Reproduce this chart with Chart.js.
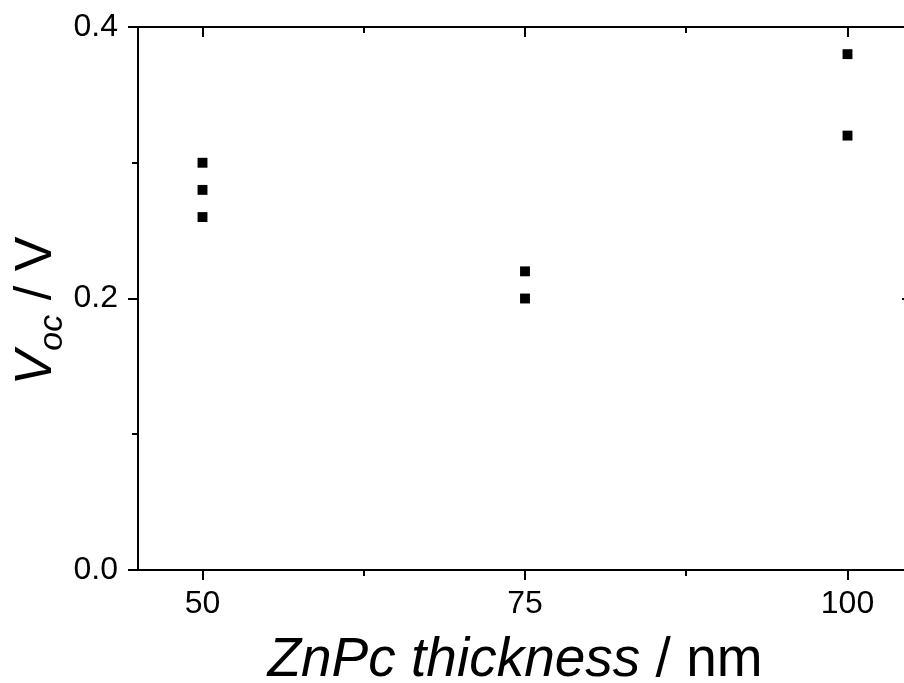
<!DOCTYPE html>
<html>
<head>
<meta charset="utf-8">
<script src="https://cdn.jsdelivr.net/npm/chart.js@4.4.0/dist/chart.umd.min.js"></script>
<style>
  html, body { margin: 0; padding: 0; background: #fff; overflow: hidden; }
  #wrap { width: 904px; height: 683px; overflow: hidden; position: relative; }
  canvas { display: block; }
</style>
</head>
<body>
<div id="wrap"><canvas id="vocChart" width="920" height="683"></canvas></div>
<script>
// ZnPc thickness (nm) vs open-circuit voltage (V)
const thickness = [50, 50, 50, 75, 75, 100, 100];
const voc = [0.30, 0.28, 0.26, 0.22, 0.20, 0.38, 0.32];
const xMajor = [50, 75, 100];
const xMinor = [62.5, 87.5];
const yMajor = [0, 0.2, 0.4];
const yMinor = [0.1, 0.3];

const FONT = "'Liberation Sans', Arial, sans-serif";

// axes box, ticks and the two titles (rich text: italic parts + subscript)
const frame = {
  id: "originFrame",
  afterDraw(chart) {
    const { ctx, chartArea: a, scales } = chart;
    const xs = scales.x, ys = scales.y;
    ctx.save();
    ctx.strokeStyle = "#000";
    ctx.lineWidth = 2;
    ctx.beginPath();
    ctx.moveTo(a.left, a.top); ctx.lineTo(a.left, a.bottom);
    ctx.moveTo(a.left - 10, a.bottom); ctx.lineTo(a.right, a.bottom);
    ctx.moveTo(a.left - 10, a.top); ctx.lineTo(a.right, a.top);
    ctx.moveTo(a.right, a.top); ctx.lineTo(a.right, a.bottom);
    xMajor.forEach((v) => {
      const px = Math.round(xs.getPixelForValue(v));
      ctx.moveTo(px, a.bottom); ctx.lineTo(px, a.bottom + 10);
      ctx.moveTo(px, a.top); ctx.lineTo(px, a.top + 10);
    });
    xMinor.forEach((v) => {
      const px = Math.round(xs.getPixelForValue(v));
      ctx.moveTo(px, a.bottom); ctx.lineTo(px, a.bottom + 6);
      ctx.moveTo(px, a.top); ctx.lineTo(px, a.top + 6);
    });
    yMajor.forEach((v) => {
      const py = Math.round(ys.getPixelForValue(v));
      ctx.moveTo(a.left - 10, py); ctx.lineTo(a.left, py);
      ctx.moveTo(a.right - 10, py); ctx.lineTo(a.right, py);
    });
    yMinor.forEach((v) => {
      const py = Math.round(ys.getPixelForValue(v));
      ctx.moveTo(a.left - 6, py); ctx.lineTo(a.left, py);
      ctx.moveTo(a.right - 6, py); ctx.lineTo(a.right, py);
    });
    ctx.stroke();

    ctx.fillStyle = "#000";
    ctx.textBaseline = "alphabetic";
    // x title
    const xBig = 55;
    const parts = [
      { t: "ZnPc thickness", f: `italic ${xBig}px ${FONT}` },
      { t: " / nm", f: `${xBig}px ${FONT}` },
    ];
    let w = 0;
    parts.forEach((p) => { ctx.font = p.f; w += ctx.measureText(p.t).width; });
    let x = 515 - w / 2;
    parts.forEach((p) => {
      ctx.font = p.f;
      ctx.fillText(p.t, x, 676);
      x += ctx.measureText(p.t).width;
    });

    // y title, rotated
    const big = 52;
    ctx.translate(51, 311);
    ctx.rotate(-Math.PI / 2);
    const yParts = [
      { t: "V", f: `italic ${big}px ${FONT}`, dy: 0 },
      { t: "oc", f: `italic ${Math.round(big * 0.66)}px ${FONT}`, dy: 11 },
      { t: " / V", f: `${big}px ${FONT}`, dy: 0 },
    ];
    w = 0;
    yParts.forEach((p) => { ctx.font = p.f; w += ctx.measureText(p.t).width; });
    x = -w / 2;
    yParts.forEach((p) => {
      ctx.font = p.f;
      ctx.fillText(p.t, x, p.dy);
      x += ctx.measureText(p.t).width;
    });
    ctx.restore();
  },
};

new Chart(document.getElementById("vocChart"), {
  type: "scatter",
  data: {
    datasets: [
      {
        data: thickness.map((t, i) => ({ x: t, y: voc[i] })),
        pointStyle: "rect",
        pointRadius: 7,
        pointBorderWidth: 0,
        backgroundColor: "#000",
        borderColor: "#000",
      },
    ],
  },
  options: {
    responsive: false,
    animation: false,
    layout: { padding: { top: 27, right: 8, left: 0, bottom: 0 } },
    plugins: { legend: { display: false }, tooltip: { enabled: false } },
    scales: {
      x: {
        type: "linear",
        min: 45,
        max: 105,
        afterFit: (s) => { s.height = 113; s.paddingLeft = 0; s.paddingRight = 0; },
        afterBuildTicks: (s) => { s.ticks = xMajor.map((v) => ({ value: v })); },
        grid: { display: false },
        border: { display: false },
        ticks: {
          color: "#000",
          font: { family: FONT, size: 32 },
          padding: 7,
          maxRotation: 0,
        },
      },
      y: {
        min: 0,
        max: 0.4,
        afterFit: (s) => { s.width = 138; s.paddingTop = 0; s.paddingBottom = 0; },
        afterBuildTicks: (s) => { s.ticks = yMajor.map((v) => ({ value: v })); },
        grid: { display: false },
        border: { display: false },
        ticks: {
          color: "#000",
          font: { family: FONT, size: 32 },
          padding: 12,
          callback: (v) => v.toFixed(1),
        },
      },
    },
  },
  plugins: [frame],
});
</script>
</body>
</html>
